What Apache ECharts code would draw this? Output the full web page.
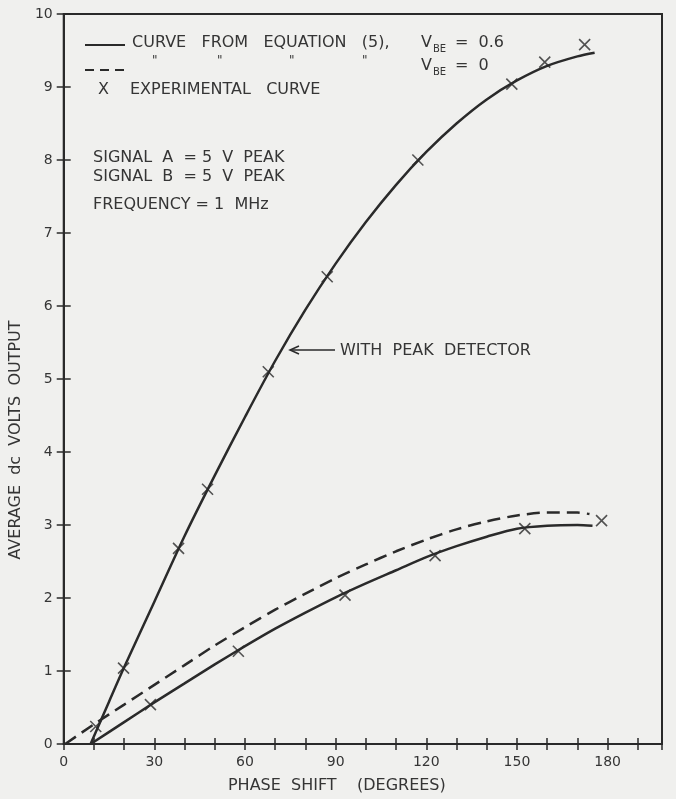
<!DOCTYPE html>
<html><head><meta charset="utf-8">
<script src="https://cdn.jsdelivr.net/npm/echarts@6/dist/echarts.min.js"></script>
<style>html,body{margin:0;padding:0;background:#f0f0ee;}#c{width:676px;height:799px;}</style>
</head><body><div id="c"></div>
<script>
// ---- data (degrees, volts) ----
const xTickLabels = [0, 30, 60, 90, 120, 150, 180];
const yTickLabels = [0, 1, 2, 3, 4, 5, 6, 7, 8, 9, 10];
// Curve from equation (5), V_BE = 0.6, with peak detector
const curvePeakDetector = [[8.9,0],[15,0.58],[20,1.05],[30,1.95],[40,2.85],[50,3.68],[60,4.48],[70,5.25],[80,5.95],[90,6.58],[100,7.15],[110,7.66],[120,8.11],[130,8.50],[140,8.83],[150,9.09],[160,9.29],[170,9.42],[175.7,9.47]];
// Curve from equation (5), V_BE = 0.6
const curveVbe06 = [[8.9,0],[20,0.30],[30,0.57],[40,0.83],[50,1.09],[60,1.34],[70,1.58],[80,1.80],[90,2.01],[100,2.20],[110,2.38],[120,2.56],[130,2.71],[140,2.84],[150,2.95],[160,2.99],[170,3.00],[175,2.99]];
// Curve from equation (5), V_BE = 0
const curveVbe0 = [[0.5,0],[10,0.27],[20,0.54],[30,0.81],[40,1.08],[50,1.35],[60,1.60],[70,1.84],[80,2.06],[90,2.27],[100,2.46],[110,2.64],[120,2.80],[130,2.94],[140,3.05],[150,3.13],[160,3.17],[170,3.17],[174,3.15]];
// Experimental points
const expPeakDetector = [[10.6,0.24],[19.8,1.04],[38.0,2.68],[47.6,3.49],[67.7,5.10],[87.2,6.40],[117.2,8.00],[148.3,9.04],[159.2,9.34],[172.4,9.58]];
const expNoPeak = [[28.7,0.54],[57.8,1.27],[93.1,2.04],[122.9,2.58],[152.6,2.95],[178.0,3.06]];

const INK = '#2a2a2a';
const TXT = '#353535';
const FONT = 'DejaVu Sans';
const X_PATH = 'path://M0,0L10,10M10,0L0,10';

const chart = echarts.init(document.getElementById('c'), null, {renderer: 'canvas'});

function xAxisDef(inside, withLabels) {
  return {
    type: 'value', min: 0, max: 198, interval: 10, position: 'bottom',
    splitLine: {show: false},
    axisLine: {show: withLabels, lineStyle: {color: INK, width: 2}},
    axisTick: {show: true, inside: inside, length: 6, lineStyle: {color: INK, width: 1.5}},
    axisLabel: {show: withLabels, color: TXT, fontFamily: FONT, fontSize: 14, margin: 11,
      formatter: v => xTickLabels.includes(v) ? String(v) : ''},
    name: withLabels ? 'PHASE  SHIFT    (DEGREES)' : '',
    nameLocation: 'middle', nameGap: 34,
    nameTextStyle: {color: TXT, fontFamily: FONT, fontSize: 16, padding: [0, 52, 0, 0]}
  };
}
function yAxisDef(inside, withLabels) {
  return {
    type: 'value', min: 0, max: 10, interval: 1, position: 'left',
    splitLine: {show: false},
    axisLine: {show: withLabels, lineStyle: {color: INK, width: 2}},
    axisTick: {show: true, inside: inside, length: 7, lineStyle: {color: INK, width: 1.5}},
    axisLabel: {show: withLabels, color: TXT, fontFamily: FONT, fontSize: 14, margin: 11,
      formatter: v => yTickLabels.includes(v) ? String(v) : ''},
    name: withLabels ? 'AVERAGE  dc  VOLTS  OUTPUT' : '',
    nameLocation: 'middle', nameGap: 30, nameRotate: 90,
    nameTextStyle: {color: TXT, fontFamily: FONT, fontSize: 16, padding: [0, 122, 0, 0]}
  };
}

const txt = (x, y, s, size) => ({
  type: 'text', x: x, y: y,
  style: {text: s, fill: TXT, font: (size || 16) + 'px "' + FONT + '"', verticalAlign: 'middle', align: 'left'}
});

chart.setOption({
  animation: false,
  backgroundColor: '#f0f0ee',
  grid: {left: 63, right: 14, top: 14, bottom: 46, show: true, borderColor: INK, borderWidth: 2},
  xAxis: [xAxisDef(false, true), xAxisDef(true, false)],
  yAxis: [yAxisDef(false, true), yAxisDef(true, false)],
  series: [
    {name: 'Curve from equation (5), VBE = 0.6 (with peak detector)', type: 'line', data: curvePeakDetector,
     smooth: 0.3, showSymbol: false, lineStyle: {color: INK, width: 2.5}},
    {name: 'Curve from equation (5), VBE = 0.6', type: 'line', data: curveVbe06,
     smooth: 0.3, showSymbol: false, lineStyle: {color: INK, width: 2.5}},
    {name: 'Curve from equation (5), VBE = 0', type: 'line', data: curveVbe0,
     smooth: 0.3, showSymbol: false, lineStyle: {color: INK, width: 2.5, type: [13, 7]}},
    {name: 'Experimental curve (peak detector)', type: 'scatter', data: expPeakDetector,
     symbol: X_PATH, symbolSize: 11, itemStyle: {color: 'rgba(0,0,0,0)', borderColor: INK, borderWidth: 1.6}},
    {name: 'Experimental curve', type: 'scatter', data: expNoPeak,
     symbol: X_PATH, symbolSize: 11, itemStyle: {color: 'rgba(0,0,0,0)', borderColor: INK, borderWidth: 1.6}}
  ],
  graphic: [
    // legend row 1
    {type: 'line', shape: {x1: 85, y1: 45, x2: 125, y2: 45}, style: {stroke: INK, lineWidth: 2}},
    txt(132, 43, 'CURVE   FROM   EQUATION   (5),'),
    txt(421, 43, 'V'), txt(433, 49, 'BE', 10), txt(455, 43, '=  0.6'),
    // legend row 2
    {type: 'line', shape: {x1: 85, y1: 70, x2: 125, y2: 70}, style: {stroke: INK, lineWidth: 2, lineDash: [9, 6]}},
    txt(152, 61, '"', 12), txt(217, 61, '"', 12), txt(289, 61, '"', 12), txt(362, 61, '"', 12),
    txt(421, 66, 'V'), txt(433, 72, 'BE', 10), txt(455, 66, '=  0'),
    // legend row 3
    txt(98, 90, 'X'), txt(130, 90, 'EXPERIMENTAL   CURVE'),
    // conditions
    txt(93, 158, 'SIGNAL  A  = 5  V  PEAK'),
    txt(93, 177, 'SIGNAL  B  = 5  V  PEAK'),
    txt(93, 205, 'FREQUENCY = 1  MHz'),
    // annotation
    {type: 'line', shape: {x1: 335, y1: 350, x2: 291, y2: 350}, style: {stroke: INK, lineWidth: 1.5}},
    {type: 'polyline', shape: {points: [[299, 346], [290, 350], [299, 354]]}, style: {stroke: INK, lineWidth: 1.5, fill: null}},
    txt(340, 351, 'WITH  PEAK  DETECTOR')
  ]
});
</script></body></html>
